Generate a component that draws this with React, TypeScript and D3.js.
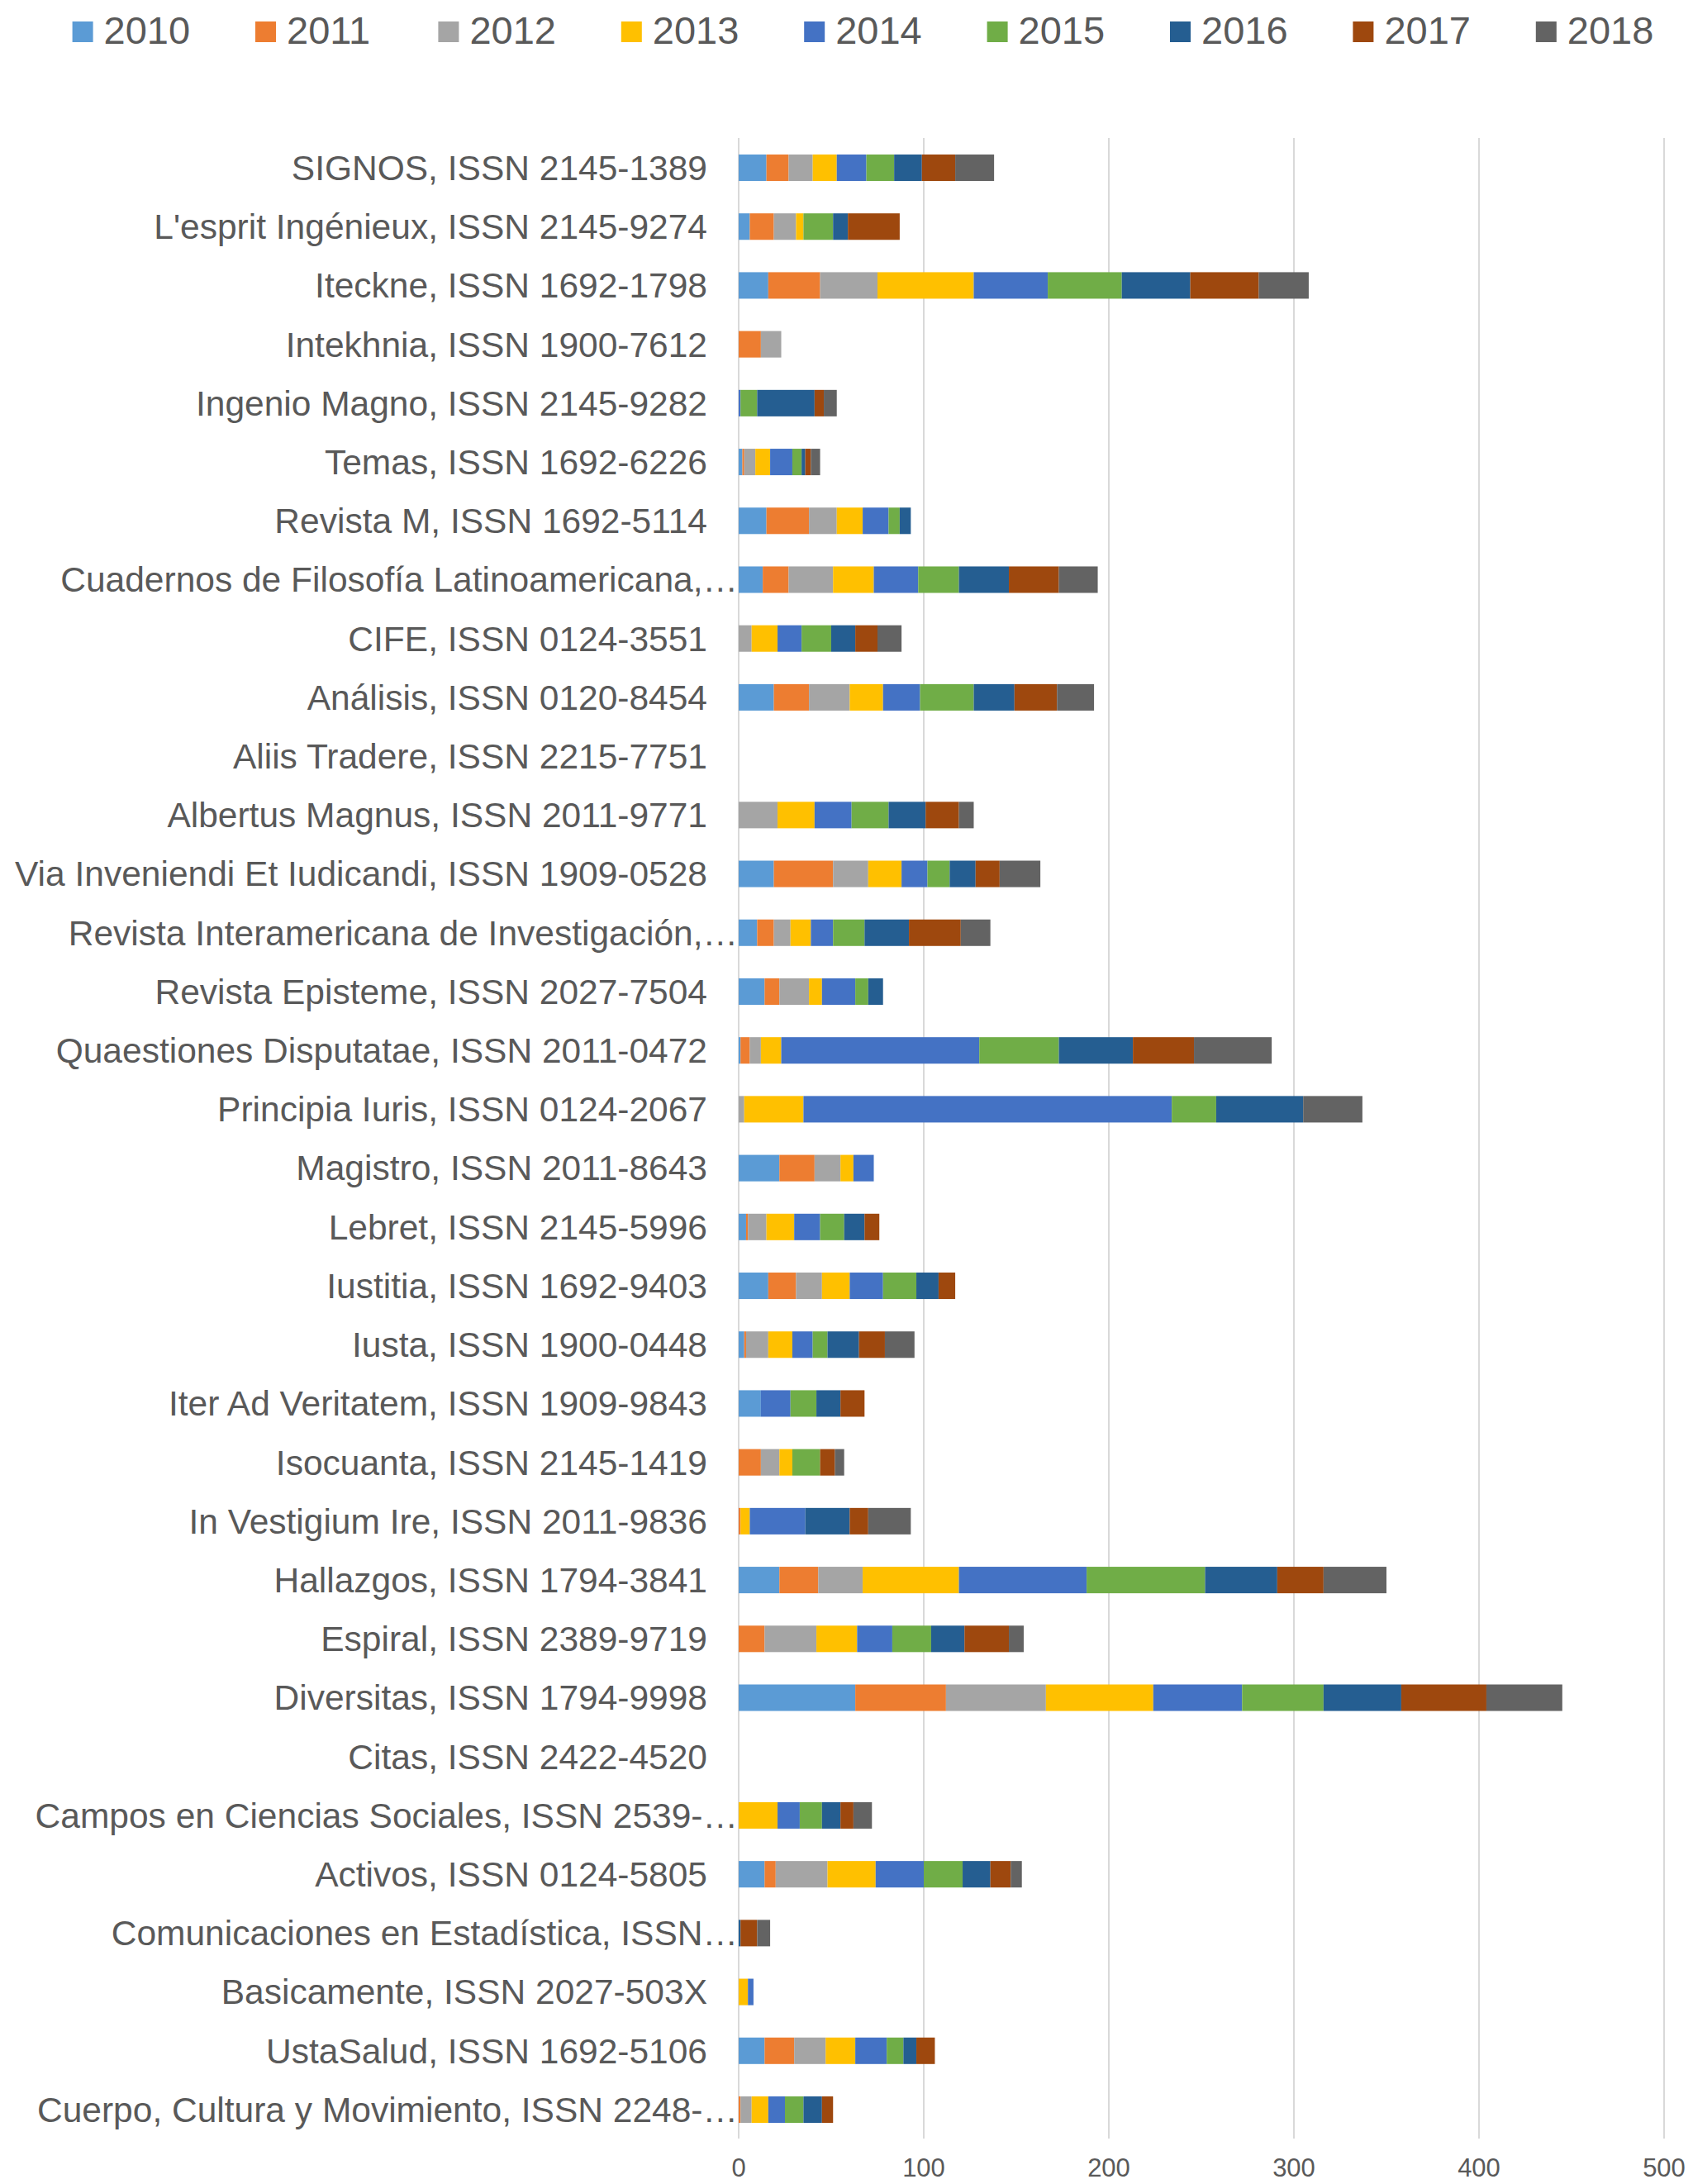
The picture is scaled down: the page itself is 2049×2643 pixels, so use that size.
import React from "react";
import * as d3 from "d3";

const categories = [
  "SIGNOS, ISSN 2145-1389",
  "L'esprit Ingénieux, ISSN 2145-9274",
  "Iteckne, ISSN 1692-1798",
  "Intekhnia, ISSN 1900-7612",
  "Ingenio Magno, ISSN 2145-9282",
  "Temas, ISSN 1692-6226",
  "Revista M, ISSN 1692-5114",
  "Cuadernos de Filosofía Latinoamericana,…",
  "CIFE, ISSN 0124-3551",
  "Análisis, ISSN 0120-8454",
  "Aliis Tradere, ISSN 2215-7751",
  "Albertus Magnus, ISSN 2011-9771",
  "Via Inveniendi Et Iudicandi, ISSN 1909-0528",
  "Revista Interamericana de Investigación,…",
  "Revista Episteme, ISSN 2027-7504",
  "Quaestiones Disputatae, ISSN 2011-0472",
  "Principia Iuris, ISSN 0124-2067",
  "Magistro, ISSN 2011-8643",
  "Lebret, ISSN 2145-5996",
  "Iustitia, ISSN 1692-9403",
  "Iusta, ISSN 1900-0448",
  "Iter Ad Veritatem, ISSN 1909-9843",
  "Isocuanta, ISSN 2145-1419",
  "In Vestigium Ire, ISSN 2011-9836",
  "Hallazgos, ISSN 1794-3841",
  "Espiral, ISSN 2389-9719",
  "Diversitas, ISSN 1794-9998",
  "Citas, ISSN 2422-4520",
  "Campos en Ciencias Sociales, ISSN 2539-…",
  "Activos, ISSN 0124-5805",
  "Comunicaciones en Estadística, ISSN…",
  "Basicamente, ISSN 2027-503X",
  "UstaSalud, ISSN 1692-5106",
  "Cuerpo, Cultura y Movimiento, ISSN 2248-…",
];

const years = ["2010", "2011", "2012", "2013", "2014", "2015", "2016", "2017", "2018"];

const v2010 = [15, 6, 16, 0, 0, 2, 15, 13, 0, 19, 0, 0, 19, 10, 14, 1, 0, 22, 4, 16, 3, 12, 0, 0, 22, 0, 63, 0, 0, 14, 0, 0, 14, 0];
const v2011 = [12, 13, 28, 12, 0, 1, 23, 14, 0, 19, 0, 0, 32, 9, 8, 5, 0, 19, 1, 15, 1, 0, 12, 1, 21, 14, 49, 0, 0, 6, 0, 0, 16, 1];
const v2012 = [13, 12, 31, 11, 0, 6, 15, 24, 7, 22, 0, 21, 19, 9, 16, 6, 3, 14, 10, 14, 12, 0, 10, 0, 24, 28, 54, 0, 0, 28, 0, 0, 17, 6];
const v2013 = [13, 4, 52, 0, 0, 8, 14, 22, 14, 18, 0, 20, 18, 11, 7, 11, 32, 7, 15, 15, 13, 0, 7, 5, 52, 22, 58, 0, 21, 26, 0, 5, 16, 9];
const v2014 = [16, 0, 40, 0, 1, 12, 14, 24, 13, 20, 0, 20, 14, 12, 18, 107, 199, 11, 14, 18, 11, 16, 0, 30, 69, 19, 48, 0, 12, 26, 0, 3, 17, 9];
const v2015 = [15, 16, 40, 0, 9, 5, 6, 22, 16, 29, 0, 20, 12, 17, 7, 43, 24, 0, 13, 18, 8, 14, 15, 0, 64, 21, 44, 0, 12, 21, 0, 0, 9, 10];
const v2016 = [15, 8, 37, 0, 31, 2, 6, 27, 13, 22, 0, 20, 14, 24, 8, 40, 47, 0, 11, 12, 17, 13, 0, 24, 39, 18, 42, 0, 10, 15, 1, 0, 7, 10];
const v2017 = [18, 28, 37, 0, 5, 3, 0, 27, 12, 23, 0, 18, 13, 28, 0, 33, 0, 0, 8, 9, 14, 13, 8, 10, 25, 24, 46, 0, 7, 11, 9, 0, 10, 6];
const v2018 = [21, 0, 27, 0, 7, 5, 0, 21, 13, 20, 0, 8, 22, 16, 0, 42, 32, 0, 0, 0, 16, 0, 5, 23, 34, 8, 41, 0, 10, 6, 7, 0, 0, 0];

const seriesValues = [v2010, v2011, v2012, v2013, v2014, v2015, v2016, v2017, v2018];

const colors = ["#5B9BD5", "#ED7D31", "#A5A5A5", "#FFC000", "#4472C4", "#70AD47", "#255E91", "#9E480E", "#636363"];

const xTicks = [0, 100, 200, 300, 400, 500];

const W = 2049;
const H = 2643;
const FONT = "'Liberation Sans', Arial, sans-serif";
const TEXT = "#595959";

export default function App() {
  const rows = categories.map((c, i) => {
    const r: any = { cat: c };
    years.forEach((y, j) => (r[y] = seriesValues[j][i]));
    return r;
  });
  const stacked = d3.stack().keys(years)(rows);

  const x = d3.scaleLinear().domain([0, 500]).range([894, 2014]);
  const y = d3
    .scaleBand<string>()
    .domain(categories)
    .range([167.4, 2588.6])
    .paddingInner(0.55)
    .paddingOuter(0.275);

  const plotTop = 167;
  const plotBottom = 2588;

  return (
    <svg
      width={W}
      height={H}
      style={{ position: "absolute", left: 0, top: 0, background: "#fff", display: "block" }}
      fontFamily={FONT}
    >
      <rect x={0} y={0} width={W} height={H} fill="#fff" />
      {/* gridlines */}
      {xTicks.map((t) => (
        <line
          key={"g" + t}
          x1={x(t)}
          x2={x(t)}
          y1={plotTop}
          y2={plotBottom}
          stroke="#D9D9D9"
          strokeWidth={2}
        />
      ))}
      {/* bars */}
      {stacked.map((s, si) => (
        <g key={s.key} fill={colors[si]}>
          {s.map((d, i) => {
            const w = x(d[1]) - x(d[0]);
            if (w <= 0) return null;
            return (
              <rect
                key={i}
                x={x(d[0])}
                y={y(categories[i])!}
                width={w}
                height={y.bandwidth()}
              />
            );
          })}
        </g>
      ))}
      {/* category labels */}
      {categories.map((c) => {
        const trunc = c.endsWith("…");
        return (
          <text
            key={c}
            x={trunc ? 893 : 856}
            y={y(c)! + y.bandwidth() / 2}
            dy="0.35em"
            textAnchor="end"
            fontSize={42.5}
            fill={TEXT}
          >
            {c}
          </text>
        );
      })}
      {/* x tick labels */}
      {xTicks.map((t) => (
        <text key={"t" + t} x={x(t)} y={2634} textAnchor="middle" fontSize={31} fill={TEXT}>
          {t}
        </text>
      ))}
      {/* legend */}
      {years.map((yr, i) => {
        const lx = 87.6 + i * 221.4;
        return (
          <g key={"l" + yr}>
            <rect x={lx} y={26} width={25} height={25} fill={colors[i]} />
            <text x={lx + 38} y={53} fontSize={47} fill={TEXT}>
              {yr}
            </text>
          </g>
        );
      })}
    </svg>
  );
}
